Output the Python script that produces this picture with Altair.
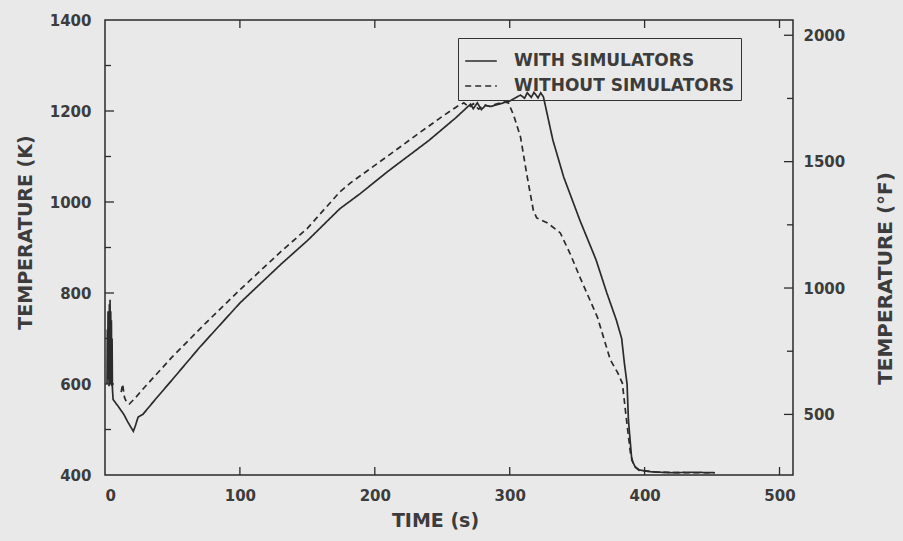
import altair as alt
import pandas as pd

# ---- data ----
t_with = [1.5, 1.75, 2, 2.25, 2.5, 2.75, 3, 3.25, 3.5, 3.75, 4, 4.25, 4.5, 4.75, 5, 5.25, 5.5, 6,
          10, 14, 17, 21, 22.5, 24.5, 28, 37, 50, 70,
          100, 130, 150, 174, 189, 210, 240, 260, 268, 271, 273, 276, 279, 282, 286, 292, 300, 305,
          308, 311, 313, 316, 318, 321, 323, 325, 332, 340, 352, 364, 372, 379, 383, 385, 387, 388,
          390.5, 393, 396, 405, 420, 435, 452]
k_with = [600, 720, 610, 760, 620, 700, 595, 775, 640, 785, 600, 760, 620, 740, 595, 700, 590, 566,
          550, 533, 516, 496, 508, 527, 533, 565, 610, 680,
          778, 862, 915, 985, 1018, 1068, 1135, 1185, 1207, 1215, 1205, 1218, 1203, 1212, 1210, 1215, 1222, 1230,
          1235, 1228, 1240, 1230, 1241, 1229, 1240, 1231, 1136, 1055, 960, 873, 800, 741, 700, 646, 600, 521,
          433, 418, 411, 407, 405, 406, 405]

t_without = [12, 13, 14.5, 16, 18, 22, 30, 50, 75, 100, 130, 150, 174, 182, 210, 234, 250, 261, 266, 270,
             273, 277, 281, 285, 290, 296, 299, 303, 308, 313, 317.5, 320, 328, 337.5, 345, 352, 365, 374.6,
             380, 383.5, 386, 389.5, 392, 396, 410, 430, 452]
k_without = [582, 600, 570, 560, 556, 568, 595, 660, 735, 807, 890, 942, 1022, 1042, 1102, 1154, 1188, 1210, 1218, 1208,
             1216, 1204, 1214, 1210, 1215, 1220, 1218, 1190, 1143, 1055, 982, 965, 954, 932, 885, 835, 747, 653,
             625, 602, 536, 448, 420, 410, 406, 405, 405]

series_names = ["WITH SIMULATORS", "WITHOUT SIMULATORS"]
x_tick_values = [100, 200, 300, 400, 500]
x_label_values = [0, 100, 200, 300, 400, 500]
k_major = [600, 800, 1000, 1200]
k_minor = [500, 700, 900, 1100, 1300]
k_label_values = [400, 600, 800, 1000, 1200, 1400]
f_major = [500, 1000, 1500, 2000]
f_minor = [750, 1250, 1750]

# ---- layout / style ----
W, H = 688, 455
BG = "#e9e9e9"
INK = "#2b2b2b"
TXT = "#3c3c3c"
FONT = "DejaVu Sans"

df = pd.concat([
    pd.DataFrame({"t": t_with, "k": k_with, "series": series_names[0]}),
    pd.DataFrame({"t": t_without, "k": k_without, "series": series_names[1]}),
])

xscale = alt.Scale(domain=[0, 510], nice=False, zero=False)
kscale = alt.Scale(domain=[400, 1400], nice=False, zero=False)
fscale = alt.Scale(domain=[400 * 1.8 - 459.67, 1400 * 1.8 - 459.67], nice=False, zero=False)

x_axis = alt.Axis(values=x_label_values, format="d", title="TIME (s)", labelPadding=13,
                  titleX=330, titleY=36, titleBaseline="top", titleAlign="center")
k_axis = alt.Axis(values=k_label_values, format="d", title="TEMPERATURE (K)", labelPadding=14,
                  titleX=-80, titleY=212, titleAngle=270, titleAlign="center",
                  titleBaseline="middle")
f_axis = alt.Axis(orient="right", values=f_major, format="d", title="TEMPERATURE (°F)", labelPadding=10,
                  titleX=92, titleY=258, titleAngle=270, titleAlign="center",
                  titleBaseline="middle", titleFontSize=20)

lines = alt.Chart(df).mark_line(strokeWidth=1.7, color=INK).encode(
    x=alt.X("t:Q", scale=xscale, axis=x_axis),
    y=alt.Y("k:Q", scale=kscale, axis=k_axis),
    strokeDash=alt.StrokeDash(
        "series:N",
        scale=alt.Scale(domain=series_names, range=[[1, 0], [6, 4]]),
        legend=alt.Legend(title=None, orient="none", legendX=353, legendY=18,
                          direction="vertical", symbolType="stroke", symbolSize=1000,
                          symbolStrokeWidth=1.5, symbolStrokeColor=INK,
                          labelFont=FONT, labelFontSize=17, labelFontWeight="bold",
                          labelColor=TXT, labelOffset=16, labelLimit=0, padding=6,
                          rowPadding=0, strokeColor="#333333"),
    ),
)

xt = pd.DataFrame({"t": x_tick_values})
bottom_ticks = alt.Chart(xt).mark_rule(color=INK, strokeWidth=1.3).encode(
    x=alt.X("t:Q", scale=xscale, axis=x_axis), y=alt.value(H), y2=alt.value(H - 8))
top_ticks = alt.Chart(xt).mark_rule(color=INK, strokeWidth=1.3).encode(
    x=alt.X("t:Q", scale=xscale, axis=x_axis), y=alt.value(0), y2=alt.value(8))

left_major = alt.Chart(pd.DataFrame({"k": k_major})).mark_rule(color=INK, strokeWidth=1.3).encode(
    y=alt.Y("k:Q", scale=kscale, axis=k_axis), x=alt.value(0), x2=alt.value(9))
left_minor = alt.Chart(pd.DataFrame({"k": k_minor})).mark_rule(color=INK, strokeWidth=1.3).encode(
    y=alt.Y("k:Q", scale=kscale, axis=k_axis), x=alt.value(0), x2=alt.value(6))

layer_k = alt.layer(lines, bottom_ticks, top_ticks, left_major, left_minor)

right_major = alt.Chart(pd.DataFrame({"f": f_major})).mark_rule(color=INK, strokeWidth=1.3).encode(
    y=alt.Y("f:Q", scale=fscale, axis=f_axis),
    x=alt.value(W), x2=alt.value(W - 9))
right_minor = alt.Chart(pd.DataFrame({"f": f_minor})).mark_rule(color=INK, strokeWidth=1.3).encode(
    y=alt.Y("f:Q", scale=fscale, axis=f_axis), x=alt.value(W), x2=alt.value(W - 6))

layer_f = alt.layer(right_major, right_minor)

chart = alt.layer(layer_k, layer_f).resolve_scale(y="independent").properties(
    width=W, height=H,
    autosize=alt.AutoSizeParams(type="none"),
    padding={"left": 105, "top": 20, "right": 110, "bottom": 66},
    background=BG,
).configure_view(
    stroke="#2a2a2a", strokeWidth=1.5
).configure_axis(
    domain=False, ticks=False, grid=False,
    labelFont=FONT, labelFontSize=15, labelFontWeight="bold", labelColor=TXT,
    titleFont=FONT, titleFontSize=19, titleFontWeight="bold", titleColor=TXT,
)

chart.save("out.html", embed_options={"renderer": "svg", "actions": False})
